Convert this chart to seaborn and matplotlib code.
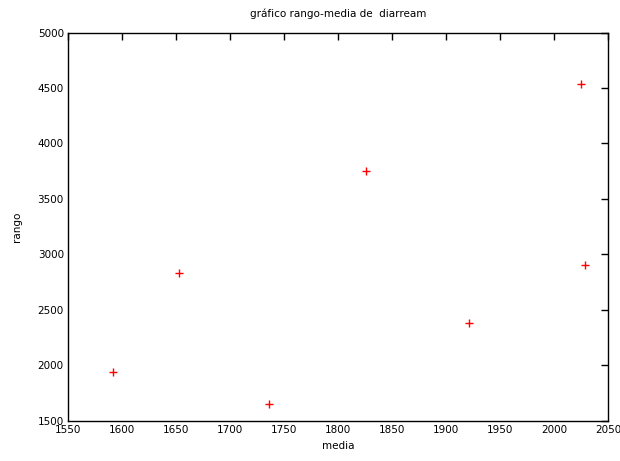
import matplotlib
matplotlib.use("Agg")
import matplotlib.pyplot as plt
import seaborn as sns
import pandas as pd

# media / rango values per group
media = [1591.7, 1653, 1736, 1826, 1921.6, 2025.3, 2029]
rango = [1938, 2830, 1650, 3752, 2383, 4532, 2905]

x_ticks = [1550, 1600, 1650, 1700, 1750, 1800, 1850, 1900, 1950, 2000, 2050]
y_ticks = [1500, 2000, 2500, 3000, 3500, 4000, 4500, 5000]

sns.set_style("white")
plt.rcParams['font.family'] = ['DejaVu Sans']
plt.rcParams['text.color'] = 'black'
plt.rcParams['axes.labelcolor'] = 'black'

df = pd.DataFrame({"media": media, "rango": rango})

fig = plt.figure(figsize=(6.2, 4.61), dpi=100)
ax = fig.add_axes([0.1097, 0.0868, 0.8709, 0.8427])

sns.scatterplot(data=df, x="media", y="rango", marker="+", color="red",
                s=28, linewidth=1.0, ax=ax)

ax.set_xlim(1550, 2050)
ax.set_ylim(1500, 5000)
ax.set_xticks(x_ticks)
ax.set_yticks(y_ticks)
ax.tick_params(direction="in", length=5, width=1, top=True, right=True,
               labelsize=7.5, colors="black", pad=3)
for sp in ax.spines.values():
    sp.set_color("black")
    sp.set_linewidth(1.0)

ax.set_xlabel("media", fontsize=7.5, labelpad=4, color="black")
ax.set_ylabel("rango", fontsize=7.5, labelpad=11, color="black")
ax.set_title("gráfico rango-media de  diarream", fontsize=7.5, pad=11, color="black")

fig.savefig("out.png", dpi=100)
